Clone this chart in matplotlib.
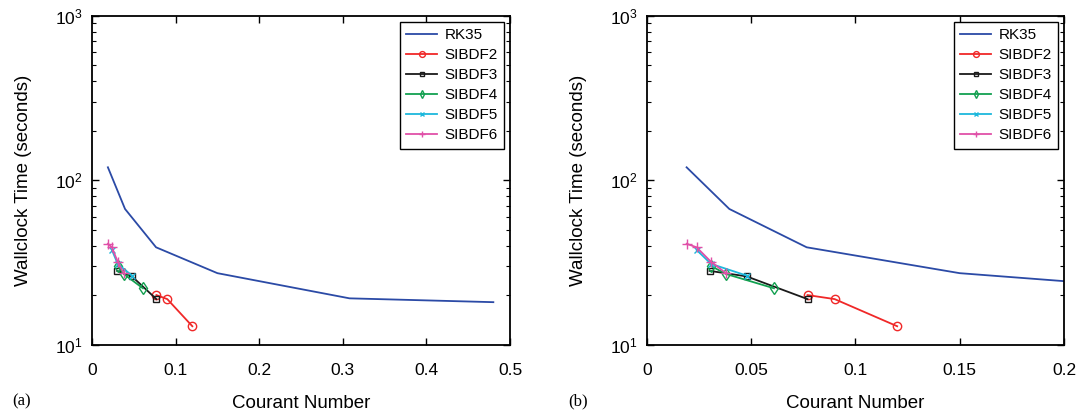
import numpy as np
import matplotlib
matplotlib.use('Agg')
import matplotlib.pyplot as plt

plt.rcParams['font.family'] = ['Liberation Sans', 'DejaVu Sans']
plt.rcParams['mathtext.default'] = 'regular'

# Courant number / wallclock time for each scheme
rk35_c = [0.019, 0.0395, 0.0766, 0.150, 0.308, 0.48]
rk35_t = [120, 67, 39.2, 27.3, 19.2, 18.2]

bdf2_c = [0.077, 0.090, 0.120]
bdf2_t = [20.1, 19.0, 13.0]

bdf3_c = [0.030, 0.0478, 0.077]
bdf3_t = [28.2, 26.1, 19.0]

bdf4_c = [0.0307, 0.0379, 0.0609]
bdf4_t = [30.2, 27.0, 22.1]

bdf5_c = [0.0238, 0.0307, 0.0478]
bdf5_t = [37.8, 31.1, 26.4]

bdf6_c = [0.019, 0.0238, 0.0307, 0.0379]
bdf6_t = [41.2, 39.2, 32.0, 27.3]

series = [
    ('RK35', rk35_c, rk35_t, '#2b4aa6', None, 0),
    ('SIBDF2', bdf2_c, bdf2_t, '#f02828', 'o', 6),
    ('SIBDF3', bdf3_c, bdf3_t, '#1a1a1a', 's', 5),
    ('SIBDF4', bdf4_c, bdf4_t, '#12a050', 'd', 6),
    ('SIBDF5', bdf5_c, bdf5_t, '#1cb8dc', 'x', 5),
    ('SIBDF6', bdf6_c, bdf6_t, '#e050a8', '+', 7),
]

fig = plt.figure(figsize=(10.85, 4.16), dpi=100)
ax1 = fig.add_axes([0.0848, 0.1707, 0.3853, 0.7916])
ax2 = fig.add_axes([0.5963, 0.1707, 0.3843, 0.7916])

for ax, xmax, xt in [(ax1, 0.5, np.arange(0, 0.51, 0.1)),
                     (ax2, 0.2, np.arange(0, 0.201, 0.05))]:
    for name, c, t, col, m, ms in series:
        ax.plot(c, t, color=col, marker=m, markersize=ms, markerfacecolor='none',
                markeredgewidth=1.0, lw=1.3, label=name)
    ax.set_yscale('log')
    ax.set_xlim(0, xmax)
    ax.set_ylim(10, 1000)
    ax.set_xticks(xt)
    ax.set_xticklabels(['%g' % v for v in xt])
    ax.tick_params(which='both', direction='in', top=True, right=True,
                   labelsize=12.5)
    ax.tick_params(axis='x', pad=13)
    ax.tick_params(axis='y', pad=7)
    ax.tick_params(which='major', length=5, width=1)
    ax.tick_params(which='minor', length=3, width=0.8)
    for s in ax.spines.values():
        s.set_linewidth(1.3)
    ax.set_xlabel('Courant Number', fontsize=13.5, labelpad=12)
    ax.set_ylabel('Wallclock Time (seconds)', fontsize=13.5, labelpad=16)
    leg = ax.legend(loc='upper right', fontsize=11, fancybox=False,
                    framealpha=1, edgecolor='black', handlelength=2.0,
                    handletextpad=0.5, borderaxespad=0.4, labelspacing=0.4,
                    markerscale=0.7)
    leg.get_frame().set_linewidth(1.0)

fig.text(0.011, 0.025, '(a)', fontsize=12, family='Liberation Serif')
fig.text(0.524, 0.025, '(b)', fontsize=12, family='Liberation Serif')

fig.savefig('out.png', dpi=100)
